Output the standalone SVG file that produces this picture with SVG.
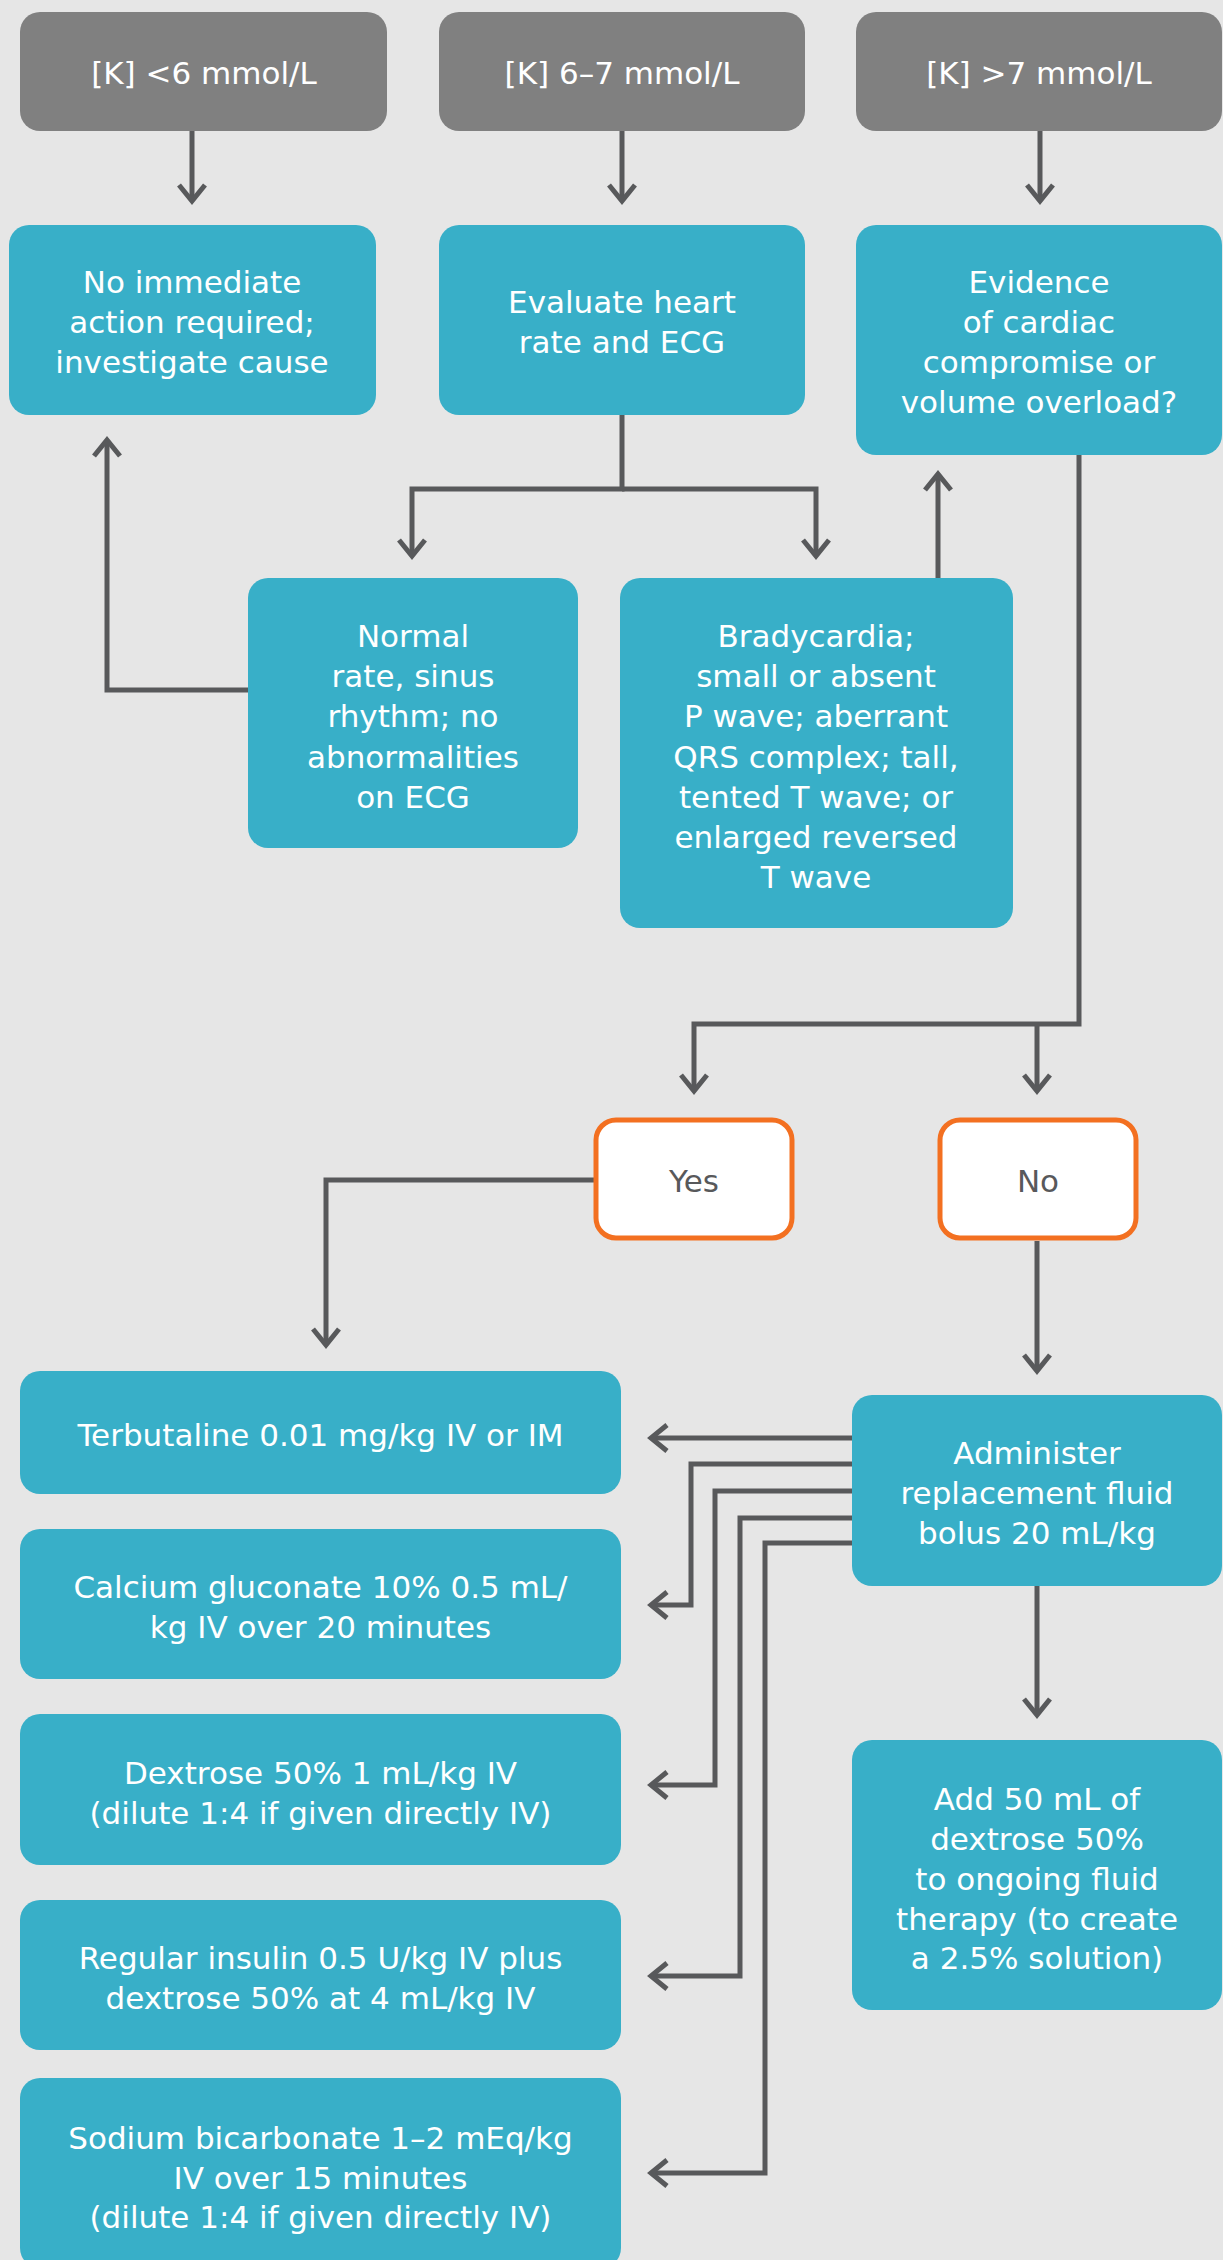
<svg xmlns="http://www.w3.org/2000/svg" width="1223" height="2260" viewBox="0 0 1223 2260">
<style>
.bg{fill:#e6e6e6}
.gray{fill:#808080}
.cyan{fill:#38afc8}
.choice{fill:#ffffff;stroke:#f37021;stroke-width:5}
text{font-family:"DejaVu Sans","Liberation Sans",sans-serif;font-size:31px;text-anchor:middle}
.w{fill:#ffffff}
.d{fill:#58595b}
.conn path{fill:none;stroke:#58595b;stroke-width:5;stroke-linejoin:miter}
</style>
<defs>
<marker id="arr" markerUnits="userSpaceOnUse" markerWidth="40" markerHeight="40" viewBox="-20 -20 40 40" refX="0" refY="0" orient="auto" overflow="visible">
<path d="M-16,-13 L0,0 L-16,13" fill="none" stroke="#58595b" stroke-width="5"/>
</marker>
</defs>
<rect class="bg" x="0" y="0" width="1223" height="2260"/>

<g class="conn">
<path d="M192,131 V201" marker-end="url(#arr)"/>
<path d="M622,131 V201" marker-end="url(#arr)"/>
<path d="M1040,131 V201" marker-end="url(#arr)"/>
<path d="M622,415 V489 H412 V556" marker-end="url(#arr)"/>
<path d="M622,489 H816 V556" marker-end="url(#arr)"/>
<path d="M248,690 H107 V440" marker-end="url(#arr)"/>
<path d="M938,578 V474" marker-end="url(#arr)"/>
<path d="M1079,455 V1024 H694 V1091" marker-end="url(#arr)"/>
<path d="M1037,1024 V1091" marker-end="url(#arr)"/>
<path d="M594,1180 H326 V1345" marker-end="url(#arr)"/>
<path d="M1037,1241 V1371" marker-end="url(#arr)"/>
<path d="M1037,1586 V1715" marker-end="url(#arr)"/>
<path d="M852,1438 H651" marker-end="url(#arr)"/>
<path d="M852,1464 H691 V1605 H651" marker-end="url(#arr)"/>
<path d="M852,1491 H715 V1785 H651" marker-end="url(#arr)"/>
<path d="M852,1518 H740 V1976 H651" marker-end="url(#arr)"/>
<path d="M852,1543 H765 V2173 H651" marker-end="url(#arr)"/>
</g>

<g id="k-low">
<rect class="gray" x="20" y="12" width="367" height="119" rx="20"/>
<text class="w" x="204" y="84">[K] &lt;6 mmol/L</text>
</g>
<g id="k-mid">
<rect class="gray" x="439" y="12" width="366" height="119" rx="20"/>
<text class="w" x="622" y="84">[K] 6–7 mmol/L</text>
</g>
<g id="k-high">
<rect class="gray" x="856" y="12" width="366" height="119" rx="20"/>
<text class="w" x="1039" y="84">[K] &gt;7 mmol/L</text>
</g>

<g id="no-action">
<rect class="cyan" x="9" y="225" width="367" height="190" rx="20"/>
<text class="w" x="192" y="293">No immediate</text>
<text class="w" x="192" y="333">action required;</text>
<text class="w" x="192" y="373">investigate cause</text>
</g>
<g id="evaluate">
<rect class="cyan" x="439" y="225" width="366" height="190" rx="20"/>
<text class="w" x="622" y="313">Evaluate heart</text>
<text class="w" x="622" y="353">rate and ECG</text>
</g>
<g id="evidence">
<rect class="cyan" x="856" y="225" width="366" height="230" rx="20"/>
<text class="w" x="1039" y="293">Evidence</text>
<text class="w" x="1039" y="333">of cardiac</text>
<text class="w" x="1039" y="373">compromise or</text>
<text class="w" x="1039" y="413">volume overload?</text>
</g>

<g id="normal">
<rect class="cyan" x="248" y="578" width="330" height="270" rx="20"/>
<text class="w" x="413" y="647">Normal</text>
<text class="w" x="413" y="687">rate, sinus</text>
<text class="w" x="413" y="727">rhythm; no</text>
<text class="w" x="413" y="768">abnormalities</text>
<text class="w" x="413" y="808">on ECG</text>
</g>
<g id="brady">
<rect class="cyan" x="620" y="578" width="393" height="350" rx="20"/>
<text class="w" x="816" y="647">Bradycardia;</text>
<text class="w" x="816" y="687">small or absent</text>
<text class="w" x="816" y="727">P wave; aberrant</text>
<text class="w" x="816" y="768">QRS complex; tall,</text>
<text class="w" x="816" y="808">tented T wave; or</text>
<text class="w" x="816" y="848">enlarged reversed</text>
<text class="w" x="816" y="888">T wave</text>
</g>

<g id="yes">
<rect class="choice" x="596" y="1120" width="196" height="118" rx="20"/>
<text class="d" x="694" y="1192">Yes</text>
</g>
<g id="no">
<rect class="choice" x="940" y="1120" width="196" height="118" rx="20"/>
<text class="d" x="1038" y="1192">No</text>
</g>

<g id="terbutaline">
<rect class="cyan" x="20" y="1371" width="601" height="123" rx="20"/>
<text class="w" x="320.5" y="1446">Terbutaline 0.01 mg/kg IV or IM</text>
</g>
<g id="calcium">
<rect class="cyan" x="20" y="1529" width="601" height="150" rx="20"/>
<text class="w" x="320.5" y="1598">Calcium gluconate 10% 0.5 mL/</text>
<text class="w" x="320.5" y="1638">kg IV over 20 minutes</text>
</g>
<g id="dextrose">
<rect class="cyan" x="20" y="1714" width="601" height="151" rx="20"/>
<text class="w" x="320.5" y="1784">Dextrose 50% 1 mL/kg IV</text>
<text class="w" x="320.5" y="1824">(dilute 1:4 if given directly IV)</text>
</g>
<g id="insulin">
<rect class="cyan" x="20" y="1900" width="601" height="150" rx="20"/>
<text class="w" x="320.5" y="1969">Regular insulin 0.5 U/kg IV plus</text>
<text class="w" x="320.5" y="2009">dextrose 50% at 4 mL/kg IV</text>
</g>
<g id="bicarbonate">
<rect class="cyan" x="20" y="2078" width="601" height="190" rx="20"/>
<text class="w" x="320.5" y="2149">Sodium bicarbonate 1–2 mEq/kg</text>
<text class="w" x="320.5" y="2189">IV over 15 minutes</text>
<text class="w" x="320.5" y="2228">(dilute 1:4 if given directly IV)</text>
</g>

<g id="administer">
<rect class="cyan" x="852" y="1395" width="370" height="191" rx="20"/>
<text class="w" x="1037" y="1464">Administer</text>
<text class="w" x="1037" y="1504">replacement fluid</text>
<text class="w" x="1037" y="1544">bolus 20 mL/kg</text>
</g>
<g id="add-dextrose">
<rect class="cyan" x="852" y="1740" width="370" height="270" rx="20"/>
<text class="w" x="1037" y="1810">Add 50 mL of</text>
<text class="w" x="1037" y="1850">dextrose 50%</text>
<text class="w" x="1037" y="1890">to ongoing fluid</text>
<text class="w" x="1037" y="1930">therapy (to create</text>
<text class="w" x="1037" y="1969">a 2.5% solution)</text>
</g>
</svg>
